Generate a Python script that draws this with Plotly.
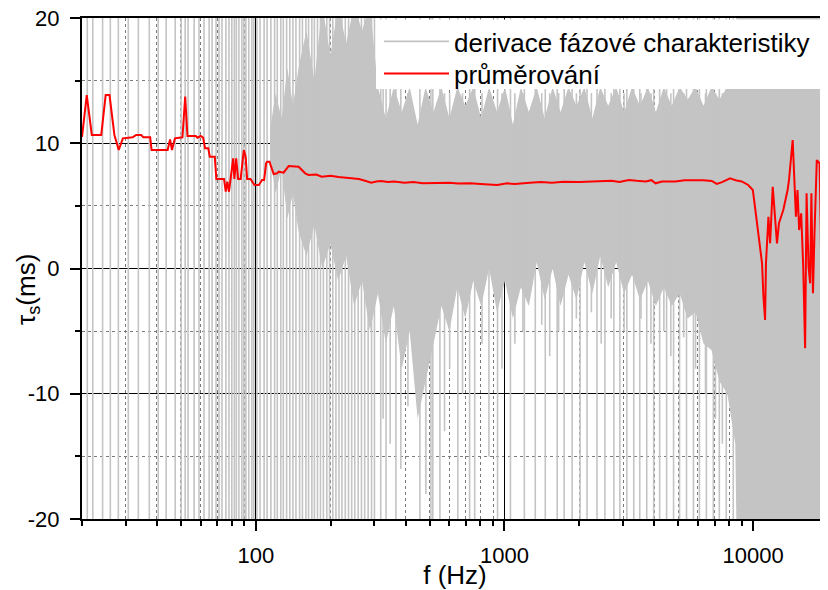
import math
import plotly.graph_objects as go

# ---- averaged curve (red) ----
red_f = [20.0, 20.9, 21.9, 23.9, 24.9, 25.8, 27.0, 28.1, 29.2, 32.0, 33.0, 34.6, 35.3, 37.6,
         38.1, 44.2, 45.2, 46.0, 47.3, 50.7, 52.0, 53.1, 57.4, 58.2, 60.1, 61.4, 62.5, 64.4,
         65.3, 68.4, 69.4, 74.5, 75.7, 76.8, 78.0, 79.0, 81.1, 82.0, 83.4, 84.9, 86.9, 89.5,
         91.0, 92.3, 95.2, 98.8, 102.8, 106, 108, 110, 111, 113.5, 115.5, 118, 121.8, 123.5,
         129.4, 135.5, 148.6, 158, 163, 175, 184, 200, 215, 242, 260, 275, 291, 305, 319, 340,
         360, 396, 430, 470, 538, 600, 650, 730, 800, 870, 935, 1025, 1100, 1265, 1400, 1550,
         1727, 2000, 2337, 2700, 2900, 3162, 3400, 3700, 3900, 4050, 4300, 4870, 5300, 5870,
         6300, 6820, 7140, 7500, 8080, 8500, 9000, 9550, 9970, 10210, 10500, 10860, 11000,
         11170, 11260, 11520, 11700, 11990, 12100, 12470, 12700, 13220, 13760, 13940, 14420,
         14600, 14860, 15080, 15310, 15600, 15900, 16180, 16400, 16700, 16950, 17150, 17400,
         17650, 18030, 18500, 18700, 18900, 19300, 19600]
red_v = [10.5, 13.85, 10.66, 10.66, 13.85, 13.85, 10.66, 9.46, 10.39, 10.47, 10.66, 10.66, 10.47, 10.47,
         9.46, 9.46, 10.31, 9.46, 10.39, 10.47, 13.72, 10.58, 10.58, 10.44, 10.58, 10.44, 9.6, 9.6,
         8.93, 8.93, 7.15, 7.15, 6.13, 6.93, 6.13, 7.07, 8.8, 7.15, 8.8, 7.15, 7.15, 9.46,
         8.93, 7.15, 7.15, 6.67, 6.67, 7.07, 7.07, 8.4, 8.53, 8.53, 8.0, 7.54, 7.6, 7.73,
         7.65, 8.18, 8.13, 7.6, 7.47, 7.5, 7.33, 7.4, 7.3, 7.2, 7.15, 7.0, 6.85, 6.95, 6.99, 6.9,
         6.95, 6.85, 6.9, 6.8, 6.8, 6.85, 6.78, 6.8, 6.75, 6.72, 6.67, 6.8, 6.75, 6.85, 6.9, 6.85,
         6.93, 6.9, 6.93, 7.0, 6.9, 7.07, 7.0, 6.95, 7.05, 6.8, 6.95, 6.95, 7.05, 7.07,
         7.05, 6.99, 6.75, 6.9, 7.2, 7.05, 6.95, 6.67, 6.27, 4.67, 2.81, 0.41, -2.25,
         -4.11, 0.41, 4.13, 2.01, 6.53, 5.47, 2.01, 3.61, 4.67, 6.27, 7.07, 10.26,
         7.86, 4.13, 6.27, 3.07, 4.41, 0.15, -6.37, 6.0, 0.15, -1.18, 6.0, -1.98,
         2.81, 8.66, 8.4, 3.34, -5.57, 2.8, -5.3]

# ---- phase-derivative curve (gray): swings that run off the plotted range ----
full_spike_f = [21, 22.1, 24.2, 26, 28, 30.7, 33.7, 37.3, 40.5, 43.6, 47.4, 50.1, 52, 53.4, 56.5,
                59.1, 61.9, 64.9, 66.7, 69.2, 71.1, 73.1, 75.8, 78, 80.1, 82, 83.5, 85.5, 87.9,
                89.5, 91.2, 93.7, 96.4, 98.2, 101, 104, 108, 111, 115, 119, 122, 126, 129, 133,
                137, 141, 145, 150, 154, 159, 163, 168, 172, 177, 182, 187, 193, 198, 204, 210,
                216, 222, 229, 236, 243, 250, 258, 266, 274, 283, 292, 300, 318, 334, 366, 457,
                506, 515, 550, 649, 724, 759, 938, 1057, 1202, 1330, 1459, 1629, 1738, 1871, 2014,
                2148, 2355, 2535, 2754, 2911, 3105, 3311, 3499, 3733, 3981, 4207, 4487, 4786, 5058,
                5395, 5754, 6081, 6486, 6918, 7311, 7798, 8318]
part_spike_f = [325, 347, 383, 409, 483, 574, 602, 678, 812, 866, 977, 1101, 1186, 1412, 1520,
                1651, 1946, 2236, 2449, 2686, 3027, 3540, 3881, 4375, 4666, 5255, 5866, 6432,
                7052, 7520]
part_spike_lo = [-12, -14, -16, -11, -18, -13, -8, -10, -6, -15, -8, -6, -5, -4.5, -7,
                 -5, -4, -3.5, -6, -4, -5, -4, -6, -5, -7, -5.5, -8, -10, -12, -14]
part_spike_hi = [16, 15, 15, 14, 14, 14, 14, 14, 14, 14, 14, 14, 14, 14, 14,
                 14, 14, 14, 14, 14, 14, 14, 14, 14, 14, 14, 14, 14, 14, 14]

# dense part of the gray curve: upper / lower envelope
band_f = [114, 120, 127, 134, 141, 148.5, 159.8, 172.0, 185.1, 199.3, 214.5, 230.8, 248.5,
          267.4, 287.8, 309.8, 333.4, 358.8, 386.2, 415.7, 447.4, 481.5, 518.3, 557.8, 600.4,
          646.2, 695.5, 748.6, 805.7, 867.2, 933.4, 1004.6, 1081, 1164, 1253, 1348, 1451,
          1562, 1681, 1809, 1947, 2096, 2256, 2428, 2613, 2813, 3027, 3258, 3507, 3775, 4063,
          4373, 4706, 5065, 5452, 5868, 6316, 6797, 7316, 7874, 8475, 8700, 21000]
band_top = [11, 14, 12, 16, 13, 16, 19, 15, 21, 17, 21, 18, 21, 19, 21, 14.5, 12, 14.5, 12.5,
            14.5, 11.5, 14.5, 12.5, 14.5, 12, 14.5, 13, 14.5, 12, 14.5, 12.5, 14.5, 11.5, 14.5,
            12.5, 14.5, 12, 14.5, 12.5, 14.5, 13, 14.5, 12, 14.5, 13, 14.5, 12.5, 14.5, 13,
            14.5, 12.5, 14.5, 13, 14.5, 13.5, 14.5, 13, 14.5, 13.5, 14.5, 14.5, 30, 30]
band_bot = [9, 6, 8, 4, 6, 3, 1, 3.5, 0, 2, -1, 1, -3, -1, -5, -2, -6, -3, -8, -5, -12, -9, -6,
            -3, -5, -1.5, -4, -1, -3, 0, -3.5, -1, -4, -1.5, -3, 0.5, -2.5, 0, -3, -0.5, -2.5,
            0.5, -2, 1, -1.5, 0.5, -2, -0.5, -2.5, -1, -3, -1.5, -3, -2, -4, -3.5, -6, -6.5,
            -9, -10, -14, -30, -30]
OFF_LO, OFF_HI = -30, 30

# ---- axes ----
x_range = [20, 20000]
x_tick_vals = [100, 1000, 10000]
x_tick_text = ["100", "1000", "10000"]
x_minor_vals = [20, 30, 40, 50, 60, 70, 80, 90, 200, 300, 400, 500, 600, 700, 800, 900,
                2000, 3000, 4000, 5000, 6000, 7000, 8000, 9000]
y_range = [-20, 20]
y_tick_vals = [-20, -10, 0, 10, 20]
y_tick_text = ["-20", "-10", "0", "10", "20"]
y_minor_vals = [-15, -5, 5, 15]

sx, sy = [], []
for f in full_spike_f:
    sx += [f, f, None]
    sy += [OFF_LO, OFF_HI, None]
for f, lo, hi in zip(part_spike_f, part_spike_lo, part_spike_hi):
    sx += [f, f, None]
    sy += [lo, hi, None]

GRAY = "#c4c4c4"
fig = go.Figure()
fig.add_trace(go.Scatter(x=band_f + band_f[::-1], y=band_top + band_bot[::-1],
                         fill="toself", fillcolor=GRAY, mode="lines",
                         line=dict(width=0, color=GRAY), showlegend=False,
                         hoverinfo="skip"))
fig.add_trace(go.Scatter(x=sx, y=sy, mode="lines", connectgaps=False,
                         line=dict(color=GRAY, width=1.6),
                         name="derivace fázové charakteristiky", legend="legend"))
fig.add_trace(go.Scatter(x=red_f, y=red_v, mode="lines",
                         line=dict(color="#ff0000", width=2), name="průměrování",
                         legend="legend2"))

# the page body adds an 8 px offset; size the figure so the plot lands where the reference has it
OFF = 8
W, H = 828 - OFF, 590 - OFF
L, R, T, B = 82 - OFF, 0, 18 - OFF, 71
pw = W - L - R
ph = H - T - B
leg_common = dict(xanchor="left", yanchor="top", bgcolor="rgba(0,0,0,0)", borderwidth=0,
                  font=dict(size=26), itemwidth=65)

fig.update_layout(
    width=W, height=H, margin=dict(l=L, r=R, t=T, b=B, autoexpand=False),
    paper_bgcolor="white", plot_bgcolor="white",
    font=dict(family="Liberation Sans, Arial, sans-serif", size=22, color="black"),
    legend=dict(x=(379 - 82) / pw, y=1, **leg_common),
    legend2=dict(x=(379 - 82) / pw, y=1 - 32 / ph, **leg_common),
    # white backing of the legend block
    shapes=[dict(type="rect", xref="paper", yref="paper", layer="above",
                 x0=(376 - 82) / pw, x1=1.0, y0=(519 - 89) / ph, y1=(519 - 19.5) / ph,
                 fillcolor="white", line=dict(width=0))],
    annotations=[dict(text="τ<sub>s</sub>(ms)", textangle=-90, showarrow=False,
                      xref="paper", yref="paper", x=(27 - 82) / pw, y=(519 - 290) / ph,
                      xanchor="center", yanchor="middle", font=dict(size=26))],
)
fig.update_xaxes(
    type="log", range=[math.log10(x_range[0]), math.log10(x_range[1])],
    tickmode="array", tickvals=x_tick_vals, ticktext=x_tick_text,
    ticks="outside", ticklen=10, tickwidth=1.5, tickcolor="black",
    ticklabelstandoff=6, automargin=False, ticklabeloverflow="allow",
    showline=True, linecolor="black", linewidth=2, mirror=True,
    showgrid=True, gridcolor="black", gridwidth=1, zeroline=False,
    minor=dict(tickmode="array", tickvals=x_minor_vals, ticks="outside", ticklen=5,
               tickwidth=1.5, tickcolor="black", showgrid=True, gridcolor="#7a7a7a",
               griddash="dot", gridwidth=1),
    title=dict(text="f (Hz)", font=dict(size=26), standoff=6),
)
fig.update_yaxes(
    range=y_range, tickmode="array", tickvals=y_tick_vals, ticktext=y_tick_text,
    ticks="outside", ticklen=10, tickwidth=1.5, tickcolor="black",
    ticklabelstandoff=6, automargin=False, ticklabeloverflow="allow",
    showline=True, linecolor="black", linewidth=2, mirror=False,
    showgrid=True, gridcolor="black", gridwidth=1, zeroline=False,
    minor=dict(tickmode="array", tickvals=y_minor_vals, ticks="outside", ticklen=5,
               tickwidth=1.5, tickcolor="black", showgrid=True, gridcolor="#7a7a7a",
               griddash="dot", gridwidth=1),
)

fig.write_html("out.html")
